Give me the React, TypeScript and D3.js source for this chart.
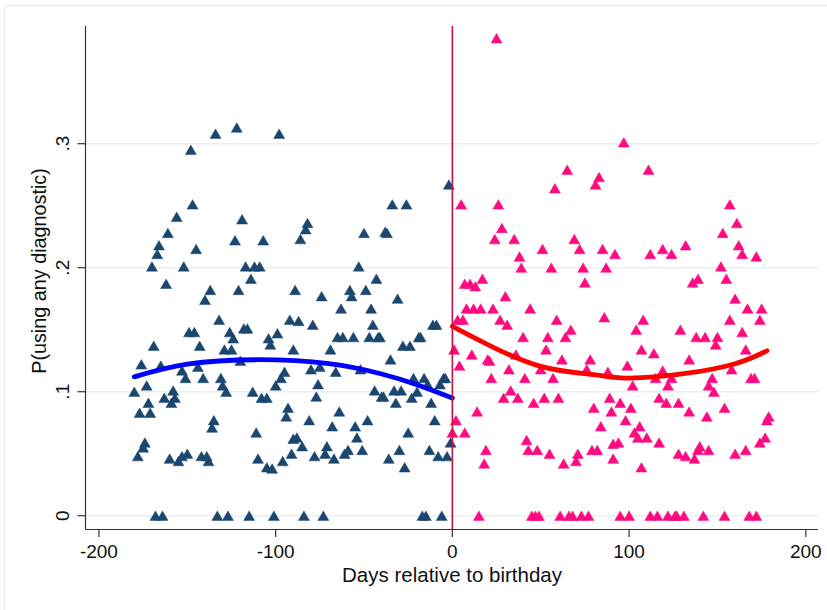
import React from 'react';
import * as d3 from 'd3';

// points: [days relative to birthday, P(using any diagnostic)]
const beforeBirthday: [number, number][] = [
  [-134, 0.308], [-122, 0.313], [-98, 0.308], [-148, 0.295], [-147, 0.251], [-156, 0.241],
  [-119, 0.239], [-161, 0.228], [-166, 0.218], [-123, 0.222], [-107, 0.222], [-145, 0.215],
  [-167, 0.211], [-170, 0.201], [-152, 0.201], [-117, 0.201], [-112, 0.201], [-109, 0.201],
  [-162, 0.187], [-114, 0.191], [-137, 0.182], [-121, 0.182], [-89, 0.182], [-140, 0.174],
  [-132, 0.158], [-92, 0.158], [-149, 0.148], [-146, 0.148], [-126, 0.148], [-118, 0.151],
  [-116, 0.151], [-99, 0.147], [-104, 0.143], [-124, 0.143], [-103, 0.138], [-169, 0.137],
  [-143, 0.137], [-129, 0.134], [-125, 0.134], [-90, 0.134], [-120, 0.125], [-176, 0.122],
  [-165, 0.121], [-144, 0.120], [-153, 0.117], [-95, 0.116], [-151, 0.111], [-141, 0.111],
  [-131, 0.111], [-97, 0.111], [-130, 0.105], [-173, 0.105], [-100, 0.105], [-180, 0.100],
  [-158, 0.101], [-128, 0.100], [-113, 0.100], [-163, 0.095], [-157, 0.095], [-108, 0.095],
  [-105, 0.095], [-172, 0.091], [-159, 0.091], [-177, 0.083], [-171, 0.083], [-93, 0.087],
  [-94, 0.080], [-135, 0.077], [-136, 0.071], [-111, 0.067], [-174, 0.059], [-175, 0.055],
  [-90, 0.062], [-178, 0.048], [-160, 0.046], [-153, 0.048], [-155, 0.044], [-150, 0.050],
  [-142, 0.048], [-139, 0.048], [-138, 0.044], [-110, 0.046], [-105, 0.039], [-102, 0.038],
  [-96, 0.044], [-91, 0.050],
  [-168, 0], [-164, 0], [-133, 0], [-127, 0], [-115, 0], [-101, 0], [-84, 0], [-73, 0],
  [-17, 0], [-15, 0], [-6, 0],
  [-2, 0.267], [-34, 0.251], [-26, 0.251], [-82, 0.236], [-83, 0.231], [-86, 0.223],
  [-50, 0.228], [-37, 0.228], [-38, 0.229], [-53, 0.201], [-43, 0.191], [-58, 0.182],
  [-49, 0.182], [-57, 0.177], [-74, 0.177], [-31, 0.175], [-63, 0.167], [-46, 0.167],
  [-87, 0.157], [-79, 0.154], [-45, 0.154], [-11, 0.154], [-9, 0.154], [-65, 0.144],
  [-62, 0.144], [-56, 0.144], [-47, 0.144], [-42, 0.144], [-41, 0.144], [-19, 0.144],
  [-18, 0.144], [-28, 0.137], [-24, 0.137], [-69, 0.134], [-35, 0.126], [-80, 0.118],
  [-75, 0.120], [-66, 0.116], [-52, 0.118], [-22, 0.111], [-16, 0.111], [-5, 0.111],
  [-4, 0.111], [-14, 0.106], [-7, 0.106], [-76, 0.106], [-44, 0.101], [-33, 0.101],
  [-29, 0.101], [-20, 0.100], [-40, 0.096], [-39, 0.096], [-77, 0.096], [-23, 0.095],
  [-32, 0.091], [-12, 0.091], [-64, 0.084], [-81, 0.077], [-48, 0.077], [-10, 0.077],
  [-68, 0.072], [-55, 0.072], [-25, 0.067], [-88, 0.063], [-54, 0.063], [-85, 0.056],
  [-71, 0.056], [-78, 0.048], [-72, 0.050], [-67, 0.046], [-61, 0.050], [-59, 0.053],
  [-51, 0.053], [-36, 0.046], [-30, 0.053], [-27, 0.039], [-13, 0.053], [-8, 0.048],
  [-3, 0.048], [-1, 0.059],
];

const afterBirthday: [number, number][] = [
  [25, 0.385], [65, 0.279], [83, 0.273], [81, 0.267], [58, 0.264], [5, 0.251], [26, 0.251],
  [28, 0.232], [24, 0.223], [35, 0.223], [69, 0.223], [72, 0.215], [51, 0.215], [85, 0.215],
  [92, 0.211], [38, 0.209], [39, 0.200], [56, 0.200], [74, 0.200], [87, 0.200], [7, 0.187],
  [10, 0.187], [13, 0.185], [17, 0.191], [75, 0.188], [30, 0.177], [8, 0.167], [12, 0.167],
  [16, 0.167], [23, 0.167], [44, 0.167], [3, 0.158], [6, 0.158], [27, 0.158], [31, 0.154],
  [59, 0.158], [86, 0.160], [67, 0.150], [40, 0.144], [54, 0.144], [64, 0.144], [1, 0.134],
  [11, 0.130], [53, 0.134], [36, 0.130], [20, 0.126], [21, 0.125], [62, 0.126], [78, 0.126],
  [4, 0.121], [32, 0.118], [50, 0.118], [76, 0.118], [88, 0.116], [22, 0.111], [41, 0.111],
  [57, 0.111], [33, 0.101], [29, 0.095], [37, 0.095], [52, 0.095], [60, 0.095], [46, 0.091],
  [89, 0.095], [14, 0.084], [80, 0.087], [90, 0.084], [2, 0.077], [84, 0.072], [0, 0.067],
  [7, 0.067], [42, 0.061], [19, 0.053], [43, 0.053], [48, 0.053], [55, 0.050], [71, 0.050],
  [79, 0.053], [82, 0.053], [91, 0.058], [18, 0.042], [63, 0.042], [70, 0.044], [91, 0.046],
  [15, 0], [45, 0], [47, 0], [49, 0], [61, 0], [66, 0], [68, 0], [73, 0], [77, 0],
  [95, 0], [100, 0], [112, 0], [116, 0], [122, 0], [126, 0], [127, 0], [131, 0], [142, 0],
  [154, 0], [168, 0], [172, 0],
  [160, 0.175], [167, 0.167], [175, 0.167], [108, 0.158], [104, 0.150], [129, 0.150],
  [157, 0.158], [174, 0.158], [164, 0.148], [138, 0.144], [143, 0.144], [150, 0.144],
  [149, 0.138], [107, 0.134], [114, 0.131], [166, 0.134], [134, 0.126], [99, 0.121],
  [119, 0.117], [158, 0.118], [115, 0.111], [124, 0.111], [147, 0.111], [169, 0.111],
  [171, 0.111], [102, 0.105], [122, 0.105], [145, 0.105], [148, 0.100], [117, 0.095],
  [121, 0.091], [128, 0.091], [95, 0.091], [101, 0.087], [154, 0.087], [134, 0.084],
  [144, 0.080], [179, 0.080], [178, 0.077], [98, 0.077], [106, 0.072], [103, 0.067],
  [105, 0.063], [110, 0.063], [94, 0.059], [117, 0.059], [177, 0.063], [174, 0.059],
  [140, 0.056], [139, 0.053], [145, 0.053], [128, 0.050], [132, 0.048], [137, 0.046],
  [160, 0.050], [166, 0.053], [107, 0.039],
  [97, 0.301], [111, 0.279], [157, 0.251], [161, 0.236], [153, 0.228], [112, 0.211],
  [119, 0.215], [124, 0.211], [132, 0.218], [162, 0.218], [164, 0.211], [172, 0.209],
  [152, 0.201], [136, 0.188], [139, 0.191], [155, 0.191],
];

// fitted curves
const fitBefore: [number, number][] = [
  [-180, 0.112], [-150, 0.1222], [-110, 0.1258], [-70, 0.1226], [-40, 0.1143], [-20, 0.1056], [0, 0.0949],
];
const fitAfter: [number, number][] = [
  [0, 0.1527], [20, 0.138], [50, 0.1204], [80, 0.1137], [100, 0.111], [130, 0.1143], [160, 0.1226], [178, 0.133],
];

const xTicks = [-200, -100, 0, 100, 200];
const yTicks = [0, 0.1, 0.2, 0.3];
const yTickLabels = ['0', '.1', '.2', '.3'];

const width = 827;
const height = 610;
const plotLeft = 85.5;
const plotRight = 818;
const plotTop = 26;
const plotBottom = 529.5;

const font = '"Liberation Sans", Arial, Helvetica, sans-serif';

const App: React.FC = () => {
  const x = d3.scaleLinear().domain([-207.6, 206.9]).range([plotLeft, plotRight]);
  const y = d3.scaleLinear().domain([-0.0111, 0.3949]).range([plotBottom, plotTop]);

  const tri = d3.symbol().type(d3.symbolTriangle).size(52)()!;
  const line = d3.line<[number, number]>()
    .x((d) => x(d[0]))
    .y((d) => y(d[1]))
    .curve(d3.curveNatural);

  return (
    <svg width={width} height={height} style={{ position: 'absolute', left: 0, top: 0, background: '#fff' }}>
      <rect x={4.5} y={5.5} width={900} height={700} fill="none" stroke="#e3ebee" strokeWidth={1} />

      {/* gridlines */}
      {yTicks.map((t) => (
        <line key={'g' + t} x1={plotLeft} x2={plotRight} y1={y(t)} y2={y(t)} stroke="#e8eff1" strokeWidth={1.4} />
      ))}

      {/* markers */}
      {beforeBirthday.map((d, i) => (
        <path key={'b' + i} d={tri} transform={`translate(${x(d[0])},${y(d[1]) + 1.5})`} fill="#1a476f" stroke="#1a476f" strokeWidth={0.5} />
      ))}
      {afterBirthday.map((d, i) => (
        <path key={'a' + i} d={tri} transform={`translate(${x(d[0])},${y(d[1]) + 1.5})`} fill="#ff0a80" stroke="#ff0a80" strokeWidth={0.5} />
      ))}

      {/* fits */}
      <path d={line(fitBefore)!} fill="none" stroke="#0000ff" strokeWidth={4.8} strokeLinecap="round" />
      <path d={line(fitAfter)!} fill="none" stroke="#ff0000" strokeWidth={4.8} strokeLinecap="round" />

      {/* cutoff */}
      <line x1={x(0)} x2={x(0)} y1={plotTop} y2={plotBottom} stroke="#c8103c" strokeWidth={1.6} />

      {/* axes */}
      <line x1={plotLeft} x2={plotLeft} y1={plotTop} y2={plotBottom} stroke="#333" strokeWidth={1.2} />
      <line x1={plotLeft} x2={plotRight} y1={plotBottom} y2={plotBottom} stroke="#333" strokeWidth={1.2} />
      {xTicks.map((t) => (
        <g key={'x' + t}>
          <line x1={x(t)} x2={x(t)} y1={plotBottom} y2={plotBottom + 7.5} stroke="#333" strokeWidth={1.2} />
          <text x={x(t)} y={557.5} textAnchor="middle" fontFamily={font} fontSize={19} fill="#111">{t}</text>
        </g>
      ))}
      {yTicks.map((t, i) => (
        <g key={'y' + t}>
          <line x1={plotLeft - 8} x2={plotLeft} y1={y(t)} y2={y(t)} stroke="#333" strokeWidth={1.2} />
          <text transform={`translate(69,${y(t)}) rotate(-90)`} textAnchor="middle" fontFamily={font} fontSize={19} fill="#111">{yTickLabels[i]}</text>
        </g>
      ))}
      <text x={452} y={581.5} textAnchor="middle" fontFamily={font} fontSize={20.5} fill="#111">Days relative to birthday</text>
      <text transform="translate(46,271) rotate(-90)" textAnchor="middle" fontFamily={font} fontSize={19.8} fill="#111">P(using any diagnostic)</text>
    </svg>
  );
};

export default App;
